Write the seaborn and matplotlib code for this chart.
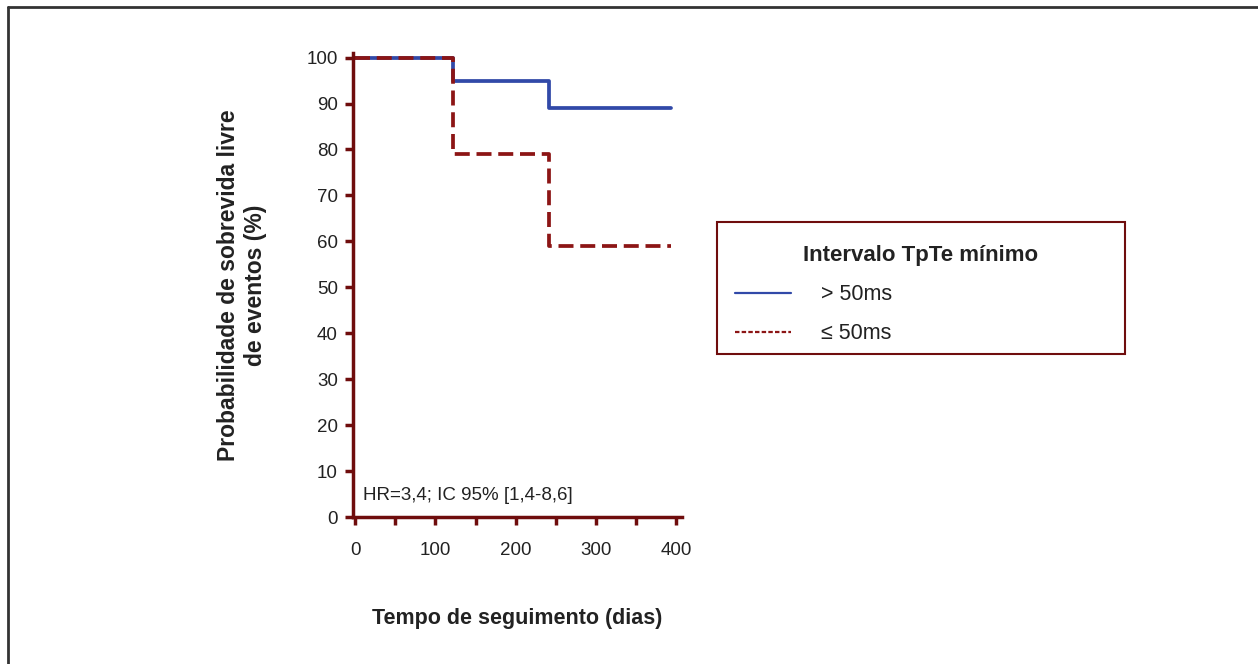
import numpy as np
import pandas as pd
import seaborn as sns
import matplotlib.pyplot as plt
from matplotlib.lines import Line2D
from matplotlib.patches import Rectangle
from matplotlib.ticker import MultipleLocator

# Kaplan-Meier style step data
times = [0, 122, 242, 393]
surv_gt50 = [100, 95, 89, 89]
surv_le50 = [100, 79, 59, 59]
groups = ['> 50ms', '≤ 50ms']

df = pd.DataFrame({
    'tempo': times * 2,
    'prob': surv_gt50 + surv_le50,
    'grupo': [groups[0]] * len(times) + [groups[1]] * len(times),
})

sns.set_style('white')
plt.rcParams['font.family'] = ['Liberation Sans', 'DejaVu Sans']

axis_red = '#6f0d0d'
blue = '#3149a8'
red = '#8c1515'
txt = '#222222'

fig = plt.figure(figsize=(12.58, 6.64), dpi=100)
ax = fig.add_axes([353 / 1258, 1 - 517 / 664, (682 - 353) / 1258, (517 - 53) / 664])

sns.lineplot(
    data=df, x='tempo', y='prob', hue='grupo', style='grupo',
    palette={groups[0]: blue, groups[1]: red},
    dashes={groups[0]: '', groups[1]: (4, 1.8)},
    estimator=None, drawstyle='steps-post', linewidth=2.7,
    legend=False, ax=ax,
)

ax.set_xlim(-2.5, 407)
ax.set_ylim(0, 101)
ax.xaxis.set_major_locator(MultipleLocator(100))
ax.xaxis.set_minor_locator(MultipleLocator(50))
ax.yaxis.set_major_locator(MultipleLocator(10))

for side in ['top', 'right']:
    ax.spines[side].set_visible(False)
for side in ['left', 'bottom']:
    ax.spines[side].set_color(axis_red)
    ax.spines[side].set_linewidth(2.5)

ax.tick_params(axis='both', which='both', direction='out', length=6, width=2.5,
               color=axis_red, labelsize=13.5, labelcolor=txt,
               bottom=True, left=True)
ax.tick_params(axis='x', which='both', pad=12)
ax.tick_params(axis='y', which='both', pad=5)

ax.set_xlabel('Tempo de seguimento (dias)', fontsize=15.5, fontweight='bold',
              color=txt, labelpad=35)
ax.set_ylabel('Probabilidade de sobrevida livre\nde eventos (%)', fontsize=16.5,
              fontweight='bold', color=txt, labelpad=28, linespacing=1.25)

ax.text(10, 3.8, 'HR=3,4; IC 95% [1,4-8,6]', fontsize=13.5, color=txt)

handles = [
    Line2D([], [], color=blue, linewidth=1.6),
    Line2D([], [], color=red, linewidth=1.6, dashes=(2, 1)),
]
leg = fig.legend(
    handles, groups, title='Intervalo TpTe mínimo',
    loc='upper left', bbox_to_anchor=(717 / 1258, 1 - 227 / 664, (1125 - 717) / 1258, 0.0),
    mode='expand', fontsize=15.5,
    title_fontproperties={'weight': 'bold', 'size': 16},
    frameon=False, handlelength=2.6, handletextpad=1.4,
    labelspacing=0.83, borderpad=0.85, borderaxespad=0,
)
for t in leg.get_texts():
    t.set_color(txt)
leg.get_title().set_color(txt)

# legend box
fig.add_artist(Rectangle((717 / 1258, 1 - 354 / 664), (1125 - 717) / 1258, (354 - 222) / 664,
                         transform=fig.transFigure, fill=False,
                         edgecolor=axis_red, linewidth=1.5))

# page frame (top and left edges)
fig.add_artist(Line2D([8 / 1258, 1], [1 - 7 / 664, 1 - 7 / 664], color='#333333', linewidth=2))
fig.add_artist(Line2D([8 / 1258, 8 / 1258], [0, 1 - 7 / 664], color='#333333', linewidth=2))

fig.savefig('out.png', dpi=100)
